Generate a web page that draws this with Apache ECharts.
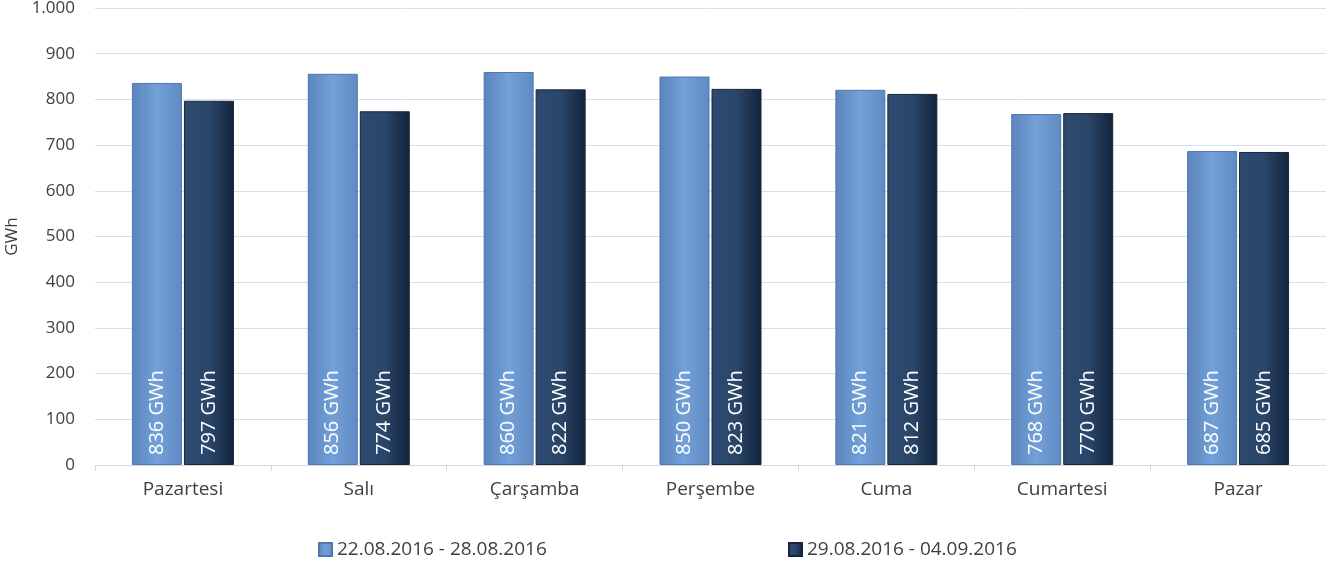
<!DOCTYPE html>
<html>
<head>
<meta charset="utf-8">
<script src="https://cdn.jsdelivr.net/npm/echarts@6/dist/echarts.min.js"></script>
<style>
html,body{margin:0;padding:0;background:#fff;}
#chart{width:1326px;height:564px;}
</style>
</head>
<body>
<div id="chart"></div>
<script>
var days = ['Pazartesi', 'Salı', 'Çarşamba', 'Perşembe', 'Cuma', 'Cumartesi', 'Pazar'];
var week1Name = '22.08.2016 - 28.08.2016';
var week2Name = '29.08.2016 - 04.09.2016';
var week1 = [836, 856, 860, 850, 821, 768, 687];
var week2 = [797, 774, 822, 823, 812, 770, 685];

var myChart = echarts.init(document.getElementById('chart'));

function grad(c1, c2, c3){
  return {
    type:'linear', x:0, y:0, x2:1, y2:0,
    colorStops:[{offset:0,color:c1},{offset:0.5,color:c2},{offset:1,color:c3}]
  };
}
var lightFill = grad('#5a85bc', '#73a0d8', '#5f8bc3');
var darkFill = grad('#2d4b70', '#2a4669', '#13233a');

var label = {
  show:true,
  position:'insideBottom',
  rotate:90,
  align:'left',
  verticalAlign:'middle',
  distance:10,
  color:'#fff',
  fontSize:20,
  fontFamily:'Open Sans',
  formatter:function(p){ return p.value + ' GWh'; }
};

var legendText = {fontSize:19, color:'#404040', fontFamily:'Open Sans'};

var option = {
  animation:false,
  textStyle:{fontFamily:'Open Sans'},
  grid:{left:95, right:0, top:8, bottom:99, outerBoundsMode:'none'},
  legend:[
    {
      top:535, left:313, itemWidth:13, itemHeight:13, icon:'rect',
      textStyle:legendText, data:[week1Name]
    },
    {
      top:535, left:783, itemWidth:13, itemHeight:13, icon:'rect',
      textStyle:legendText, data:[week2Name]
    }
  ],
  xAxis:{
    type:'category',
    data:days,
    axisLine:{lineStyle:{color:'#d9d9d9'}},
    axisTick:{show:true, lineStyle:{color:'#d9d9d9'}, length:6},
    axisLabel:{color:'#404040', fontSize:19, margin:15}
  },
  yAxis:{
    type:'value',
    min:0,
    max:1000,
    interval:100,
    name:'GWh',
    nameLocation:'middle',
    nameGap:72,
    nameRotate:90,
    nameTextStyle:{color:'#404040', fontSize:17},
    axisLine:{show:false},
    axisTick:{show:false},
    axisLabel:{
      color:'#404040', fontSize:17, margin:20,
      formatter:function(v){ return v === 1000 ? '1.000' : String(v); }
    },
    splitLine:{lineStyle:{color:'#d6dff0', width:1}}
  },
  series:[
    {
      name:week1Name,
      type:'bar',
      data:week1,
      barWidth:50,
      barGap:'4%',
      itemStyle:{color:lightFill, borderColor:'#4f79ad', borderWidth:1},
      label:label
    },
    {
      name:week2Name,
      type:'bar',
      data:week2,
      barWidth:50,
      itemStyle:{color:darkFill, borderColor:'#16263c', borderWidth:1},
      label:label
    }
  ]
};
myChart.setOption(option);
</script>
</body>
</html>
